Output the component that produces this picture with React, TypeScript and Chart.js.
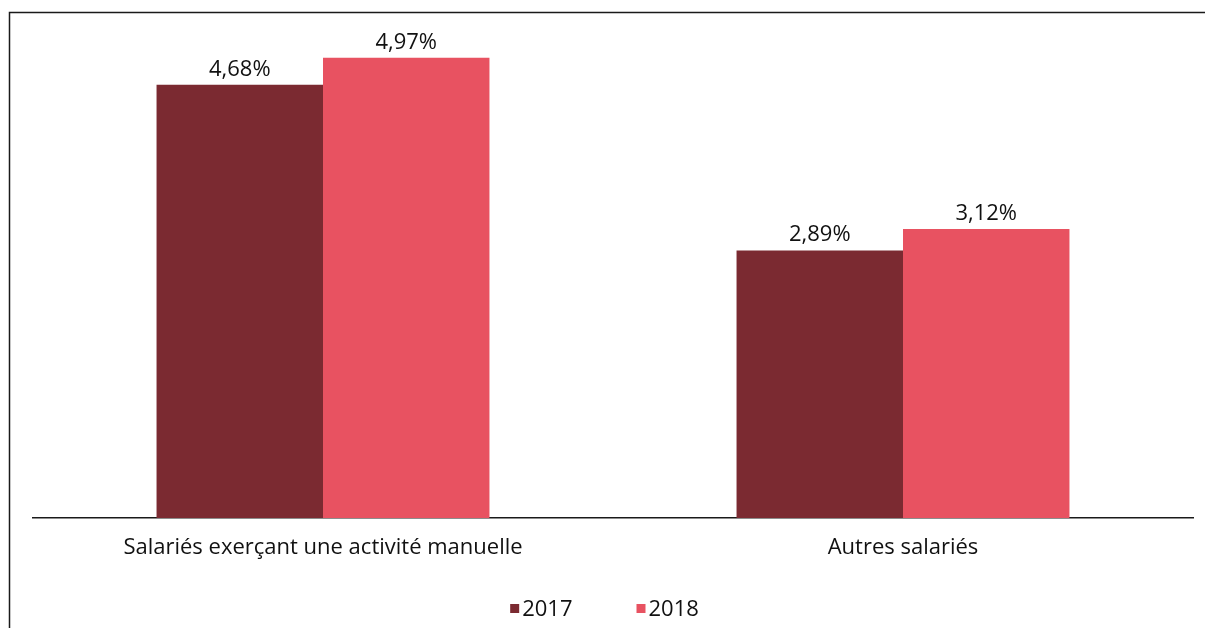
import React, { useEffect, useRef } from "react";
import { Chart, registerables } from "chart.js";

Chart.register(...registerables);

const categories = ["Salariés exerçant une activité manuelle", "Autres salariés"];
const seriesLabels = ["2017", "2018"];
const values2017 = [4.68, 2.89];
const values2018 = [4.97, 3.12];
const seriesColors = ["#7B2A31", "#E85261"];

const FONT = "'Open Sans', 'Noto Sans', sans-serif";
const FONT_SIZE = 22;

const fmt = (v: number) => v.toFixed(2).replace(".", ",") + "%";

export default function App() {
  const ref = useRef<HTMLCanvasElement | null>(null);

  useEffect(() => {
    if (!ref.current) return;

    const framePlugin = {
      id: "frame",
      beforeDraw(chart: any) {
        const ctx = chart.ctx;
        ctx.save();
        ctx.fillStyle = "#fff";
        ctx.fillRect(0, 0, chart.width, chart.height);
        ctx.strokeStyle = "#1a1a1a";
        ctx.lineWidth = 1.5;
        ctx.beginPath();
        ctx.moveTo(9.5, chart.height + 5);
        ctx.lineTo(9.5, 12.5);
        ctx.lineTo(chart.width + 5, 12.5);
        ctx.stroke();
        ctx.restore();
      },
    };

    const labelPlugin = {
      id: "valueLabels",
      afterDatasetsDraw(chart: any) {
        const ctx = chart.ctx;
        ctx.save();
        ctx.font = `${FONT_SIZE}px ${FONT}`;
        ctx.fillStyle = "#111";
        ctx.textAlign = "center";
        ctx.textBaseline = "alphabetic";
        chart.data.datasets.forEach((ds: any, i: number) => {
          const meta = chart.getDatasetMeta(i);
          meta.data.forEach((el: any, j: number) => {
            ctx.fillText(fmt(ds.data[j]), el.x, el.y - 9);
          });
        });
        ctx.restore();
      },
    };

    const legendPlugin = {
      id: "customLegend",
      afterDraw(chart: any) {
        const ctx = chart.ctx;
        ctx.save();
        ctx.font = `${FONT_SIZE}px ${FONT}`;
        ctx.textBaseline = "alphabetic";
        ctx.textAlign = "left";
        const box = 9;
        const gapBoxText = 3;
        const gapItems = 64;
        const items = chart.data.datasets.map((ds: any) => ({
          label: ds.label,
          color: ds.backgroundColor,
          w: box + gapBoxText + ctx.measureText(ds.label).width,
        }));
        const total =
          items.reduce((s: number, it: any) => s + it.w, 0) + gapItems * (items.length - 1);
        let x = chart.width / 2 + 2 - total / 2;
        const base = 616;
        items.forEach((it: any) => {
          ctx.fillStyle = it.color;
          ctx.fillRect(x, base - 12, box, box);
          ctx.fillStyle = "#111";
          ctx.fillText(it.label, x + box + gapBoxText, base);
          x += it.w + gapItems;
        });
        ctx.restore();
      },
    };

    const chart = new Chart(ref.current, {
      type: "bar",
      data: {
        labels: categories,
        datasets: [
          {
            label: seriesLabels[0],
            data: values2017,
            backgroundColor: seriesColors[0],
            categoryPercentage: 0.574,
            barPercentage: 1,
          },
          {
            label: seriesLabels[1],
            data: values2018,
            backgroundColor: seriesColors[1],
            categoryPercentage: 0.574,
            barPercentage: 1,
          },
        ],
      },
      options: {
        responsive: false,
        animation: false,
        layout: { padding: { left: 33, right: 12, top: 18, bottom: 0 } },
        plugins: {
          legend: { display: false },
          tooltip: { enabled: false },
        },
        scales: {
          x: {
            grid: { display: false, drawTicks: false },
            border: { display: true, color: "#1a1a1a", width: 1.5 },
            ticks: {
              color: "#111",
              font: { family: FONT, size: FONT_SIZE },
              padding: 17,
              maxRotation: 0,
            },
            afterFit(scale: any) {
              scale.height = 110;
            },
          },
          y: {
            display: false,
            min: 0,
            max: 5.4,
          },
        },
      },
      plugins: [framePlugin, labelPlugin, legendPlugin],
    });

    return () => chart.destroy();
  }, []);

  return (
    <canvas
      ref={ref}
      width={1205}
      height={628}
      style={{ position: "fixed", left: 0, top: 0, width: 1205, height: 628 }}
    />
  );
}
